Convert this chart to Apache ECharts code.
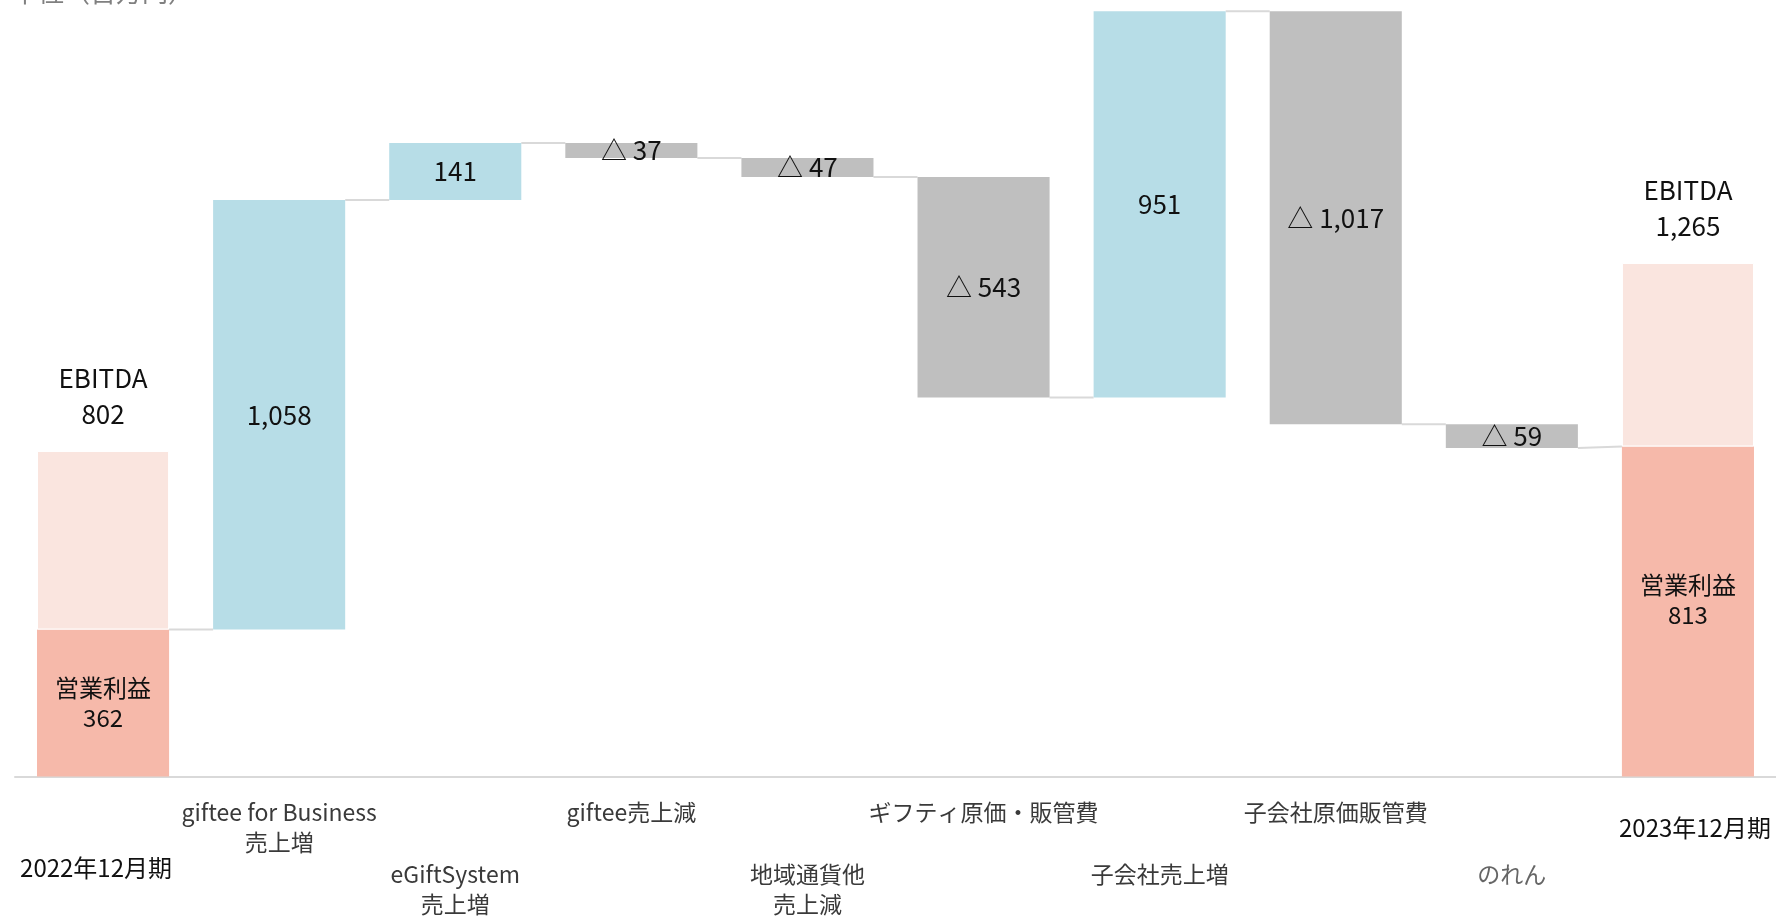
<!DOCTYPE html>
<html><head><meta charset="utf-8">
<script src="https://cdn.jsdelivr.net/npm/echarts@6/dist/echarts.min.js"></script>
<style>html,body{margin:0;padding:0;background:#fff;overflow:hidden}#c{width:1776px;height:916px}</style>
</head><body><div id="c"></div>
<script>
const categories = ['2022年12月期','giftee for Business\n売上増','eGiftSystem\n売上増','giftee売上減','地域通貨他\n売上減','ギフティ原価・販管費','子会社売上増','子会社原価販管費','のれん','2023年12月期'];
const changes = [null, 1058, 141, -37, -47, -543, 951, -1017, -59, null];
const operatingProfit = [362, 813];   // start, end
const ebitda = [802, 1265];           // start, end
const unitLabel = '単位（百万円）';

const FONT = '"Noto Sans CJK JP", "Noto Sans", sans-serif';
const n = categories.length;
const base = [], inc = [], dec = [], op = [], ebExtra = [], level = [];
let cum = operatingProfit[0];
for (let i = 0; i < n; i++) {
  base.push(0); inc.push('-'); dec.push('-'); op.push('-'); ebExtra.push('-');
  if (i === 0) {
    op[i] = operatingProfit[0]; ebExtra[i] = ebitda[0] - operatingProfit[0]; level.push(operatingProfit[0]);
  } else if (i === n - 1) {
    op[i] = {value: operatingProfit[1], label: {offset: [0, -12]}};
    ebExtra[i] = ebitda[1] - operatingProfit[1]; level.push(operatingProfit[1]);
  } else {
    const c = changes[i];
    if (c >= 0) { base[i] = cum; inc[i] = c; cum += c; }
    else { cum += c; base[i] = cum; dec[i] = -c; }
    level.push(cum);
  }
}
const connectors = [];
for (let i = 0; i < n - 1; i++) {
  connectors.push([i, level[i], (i + 1 === n - 1) ? operatingProfit[1] : level[i]]);
}
const fmt = v => Number(v).toLocaleString('en-US');

const chart = echarts.init(document.getElementById('c'), null, {renderer: 'canvas'});
chart.setOption({
  animation: false,
  backgroundColor: '#fff',
  textStyle: {fontFamily: FONT},
  graphic: [{type: 'text', left: 12, top: -21, style: {text: unitLabel, fill: '#808080', font: '26px ' + FONT}}],
  grid: {left: 15, right: 0, top: 0, bottom: 138},
  xAxis: {
    type: 'category', data: categories,
    axisLine: {lineStyle: {color: '#d9d9d9', width: 2}},
    axisTick: {show: false},
    axisLabel: {
      interval: 0, margin: 21, verticalAlign: 'top',
      formatter: function (v, idx) {
        const lines = v.split('\n');
        if (idx === 0) return '{sp55| }\n{p0|' + v + '}';
        if (idx === n - 1) return '{sp15| }\n{p1|' + v + '}';
        const st = (idx === n - 2) ? 'g' : 't';
        const body = lines.map(l => '{' + st + '|' + l + '}').join('\n');
        return (idx % 2 === 0) ? '{sp62| }\n' + body : body;
      },
      rich: {
        t: {fontSize: 23, lineHeight: 30, color: '#3a3a3a', fontFamily: FONT},
        g: {fontSize: 23, lineHeight: 30, color: '#666', fontFamily: FONT},
        p0: {fontSize: 24, lineHeight: 30, color: '#111', fontFamily: FONT, padding: [0, 14, 0, 0]},
        p1: {fontSize: 24, lineHeight: 30, color: '#111', fontFamily: FONT, padding: [0, 0, 0, 14]},
        sp15: {fontSize: 1, lineHeight: 15, height: 15},
        sp55: {fontSize: 1, lineHeight: 55, height: 55},
        sp62: {fontSize: 1, lineHeight: 62, height: 62}
      }
    }
  },
  yAxis: {type: 'value', min: 0, max: 1913, show: false, splitLine: {show: false}},
  series: [
    {type: 'bar', stack: 'w', barWidth: '75%', data: base, itemStyle: {color: 'transparent'}, silent: true},
    {type: 'bar', stack: 'w', barWidth: '75%', data: op, itemStyle: {color: '#f6b9aa'},
      label: {show: true, position: 'inside', color: '#111', fontSize: 24, lineHeight: 30, fontFamily: FONT,
        formatter: p => '営業利益\n' + fmt(p.value)}},
    {type: 'bar', stack: 'w', barWidth: '75%', data: ebExtra, itemStyle: {color: '#fae5df', borderColor: '#fff', borderWidth: 1},
      label: {show: true, position: 'top', distance: 19, color: '#111', fontSize: 26, lineHeight: 36, fontFamily: FONT,
        formatter: p => 'EBITDA\n' + fmt(p.dataIndex === 0 ? ebitda[0] : ebitda[1])}},
    {type: 'bar', stack: 'w', barWidth: '75%', data: inc, itemStyle: {color: '#b7dde7'},
      label: {show: true, position: 'inside', color: '#111', fontSize: 26, fontFamily: FONT, formatter: p => fmt(p.value)}},
    {type: 'bar', stack: 'w', barWidth: '75%', data: dec, itemStyle: {color: '#bfbfbf'},
      label: {show: true, position: 'inside', color: '#111', fontSize: 26, fontFamily: FONT, formatter: p => '△ ' + fmt(p.value)}},
    {type: 'custom', data: connectors, encode: {x: 0, y: [1, 2]}, silent: true, z: 1,
      renderItem: function (params, api) {
        const i = api.value(0);
        const p1 = api.coord([i, api.value(1)]);
        const p2 = api.coord([i + 1, api.value(2)]);
        const bw = api.size([1, 0])[0] * 0.75;
        return {type: 'line', shape: {x1: p1[0] + bw / 2, y1: p1[1], x2: p2[0] - bw / 2, y2: p2[1]},
          style: {stroke: '#d9d9d9', lineWidth: 2}};
      }}
  ]
});
</script>
</body></html>
